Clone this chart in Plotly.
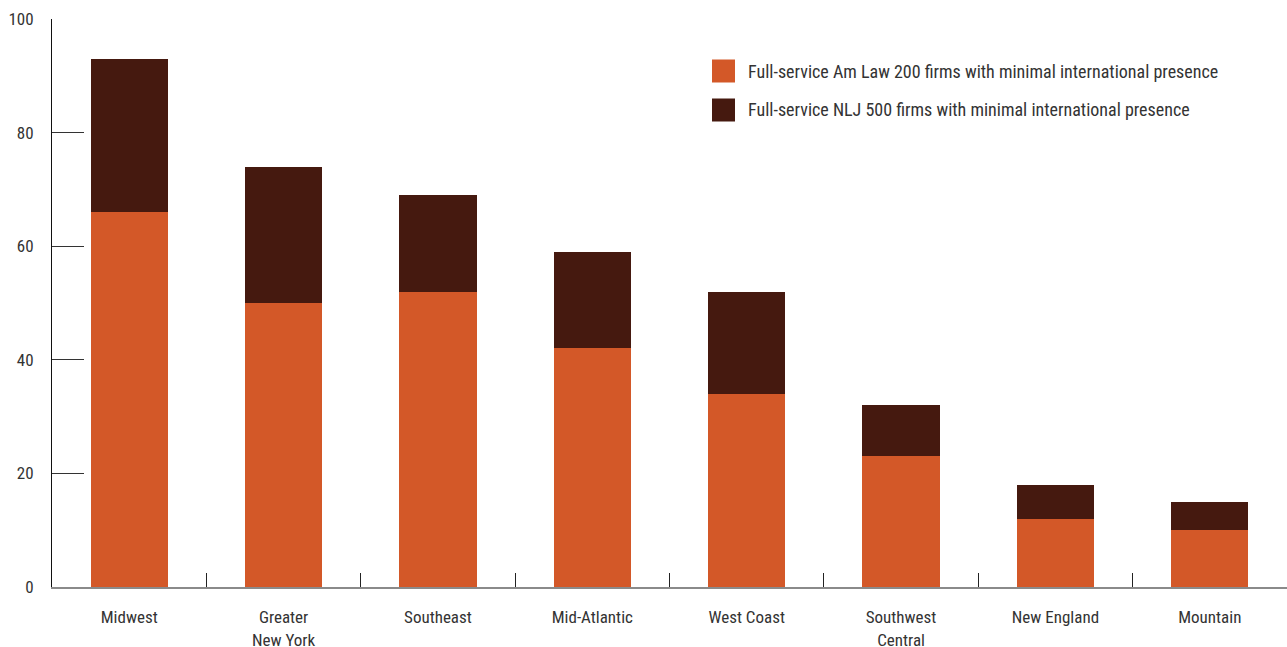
import plotly.graph_objects as go

# Regional counts of full-service firms with minimal international presence
regions = ["Midwest", "Greater<br>New York", "Southeast", "Mid-Atlantic",
           "West Coast", "Southwest<br>Central", "New England", "Mountain"]
amlaw_200 = [66, 50, 52, 42, 34, 23, 12, 10]
nlj_500 = [27, 24, 17, 17, 18, 9, 6, 5]

series_names = ["Full-service Am Law 200 firms with minimal international presence",
                "Full-service NLJ 500 firms with minimal international presence"]
series_colors = ["#D35828", "#45190F"]

y_ticks = [0, 20, 40, 60, 80, 100]

FONT = "Liberation Sans Narrow, Roboto Condensed, DejaVu Sans Condensed, sans-serif"
TEXT = "#333333"

W, H = 1287, 647
L, R, T, B = 52, 0, 19, 60
PW, PH = W - L - R, H - T - B


def px_x(x):
    return (x - L) / PW


def px_y(y):
    return (H - B - y) / PH


fig = go.Figure()
for name, vals, color in zip(series_names, [amlaw_200, nlj_500], series_colors):
    fig.add_trace(go.Bar(x=regions, y=vals, name=name, marker_color=color,
                         marker_line_width=0, showlegend=False))

# Legend drawn as swatches with labels
for i, (name, color) in enumerate(zip(series_names, series_colors)):
    y_mid = 71 + 39 * i
    fig.add_shape(type="rect", xref="paper", yref="paper",
                  x0=px_x(712), x1=px_x(735),
                  y0=px_y(y_mid + 11.5), y1=px_y(y_mid - 11.5),
                  fillcolor=color, line_width=0, layer="above")
    fig.add_annotation(xref="paper", yref="paper",
                       x=px_x(746), y=px_y(y_mid),
                       text=name, showarrow=False, xanchor="left", yanchor="middle",
                       font=dict(family=FONT, size=18, color=TEXT))

fig.update_layout(
    barmode="stack",
    bargap=0.5,
    width=W, height=H,
    margin=dict(l=L, r=R, t=T, b=B, autoexpand=False),
    plot_bgcolor="white", paper_bgcolor="white",
    font=dict(family=FONT, size=17, color=TEXT),
    xaxis=dict(
        type="category", automargin=False,
        showline=True, linecolor="#8a8a8a", linewidth=2,
        ticks="inside", tickson="boundaries", ticklen=14, tickcolor="#222222", tickwidth=1,
        showgrid=False, zeroline=False,
        ticklabelstandoff=14,
        tickfont=dict(family=FONT, size=17, color=TEXT),
    ),
    yaxis=dict(
        range=[0, 100], tickvals=y_ticks, automargin=False,
        showline=True, linecolor="#111111", linewidth=1,
        ticks="inside", ticklen=32, tickcolor="#333333", tickwidth=1,
        showgrid=False, zeroline=False,
        ticklabelstandoff=14,
        tickfont=dict(family=FONT, size=17, color=TEXT),
    ),
)

fig.write_html("out.html")
